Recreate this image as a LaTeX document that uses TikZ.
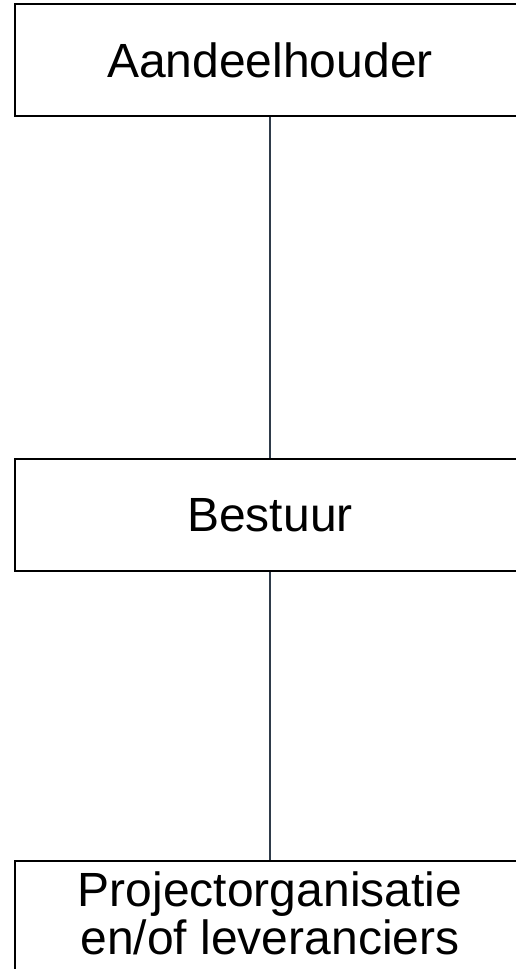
\documentclass[tikz,border=0pt]{standalone}
\usepackage{fontspec}
\setmainfont{Liberation Sans}
\usepackage{xcolor}
\usetikzlibrary{positioning}
\definecolor{linkgray}{RGB}{47,59,74}

\begin{document}
\begin{tikzpicture}[
    x=1pt, y=-1pt,
    orgbox/.style={
      rectangle,
      draw=black,
      fill=white,
      line width=1.5pt,
      minimum width=510pt,
      minimum height=112pt,
      align=center,
      font=\fontsize{48}{48}\selectfont
    },
    link/.style={draw=linkgray, line width=1.5pt}
  ]
    \useasboundingbox (0,0) rectangle (516,969);
    \clip (0,0) rectangle (516,969);

    \node[orgbox] (share) at (270,60) {Aandeelhouder};
    \node[orgbox] (board) at (270,515) {Bestuur};
    \node[orgbox, minimum height=140pt, anchor=north] (project) at (270,860) {};
    \node[font=\fontsize{48}{48}\selectfont, align=center] (projtext) at (270,913)
      {Projectorganisatie\\en/of leveranciers};

    \draw[link] (share) -- (board);
    \draw[link] (board) -- (project);
  \end{tikzpicture}
\end{document}
